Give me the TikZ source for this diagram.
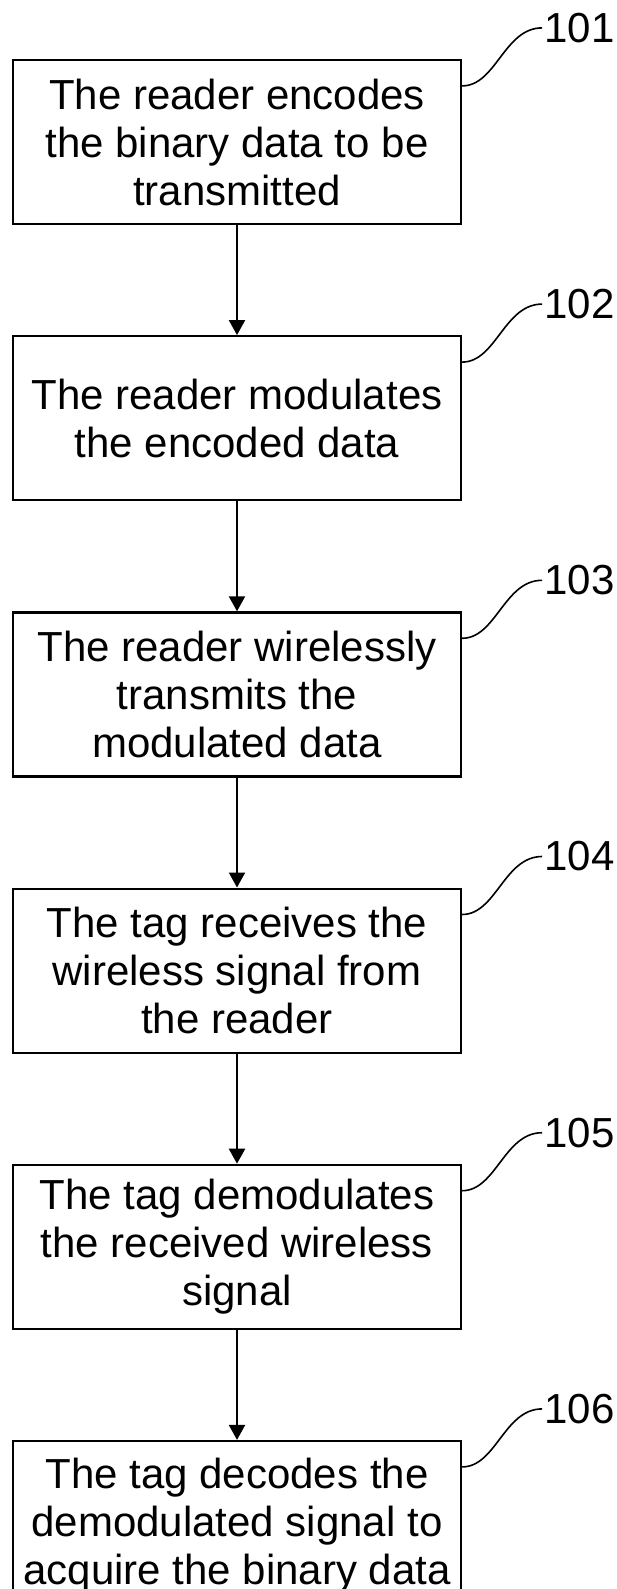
\documentclass[tikz,border=0pt]{standalone}
\usepackage{fontspec}
\setmainfont{Liberation Sans}
\usetikzlibrary{positioning,arrows.meta}
\begin{document}
\begin{tikzpicture}[
  x=1pt, y=-1pt,
  node distance=110pt,
  every node/.style={font=\fontsize{42}{48}\selectfont},
  stepbox/.style={draw, line width=2.2pt, minimum width=448pt, minimum height=164pt, align=center, inner sep=0pt},
  flow/.style={draw, line width=2.2pt, -{Triangle[length=15pt,width=16pt]}},
  leader/.style={draw, line width=1.6pt},
  tagnum/.style={anchor=west, inner sep=2pt}
]
\useasboundingbox (0,0) rectangle (616,1589);

% steps
\node[stepbox] (encode) at (237,142) {The reader encodes\\the binary data to be\\transmitted};
\node[stepbox, below=of encode] (modulate) {The reader modulates\\the encoded data};
\node[stepbox, below=of modulate] (transmit) {The reader wirelessly\\transmits the\\modulated data};
\node[stepbox, below=of transmit] (receive) {The tag receives the\\wireless signal from\\the reader};
\node[stepbox, below=of receive] (demod) {The tag demodulates\\the received wireless\\signal};
\node[stepbox, below=of demod, minimum height=170pt] (decode) {The tag decodes the\\demodulated signal to\\acquire the binary data};

\draw[flow] (encode) -- (modulate);
\draw[flow] (modulate) -- (transmit);
\draw[flow] (transmit) -- (receive);
\draw[flow] (receive) -- (demod);
\draw[flow] (demod) -- (decode);

% reference numerals
\node[tagnum] (n101) at ([xshift=80pt,yshift=31pt]encode.north east) {101};
\node[tagnum] (n102) at ([xshift=80pt,yshift=31pt]modulate.north east) {102};
\node[tagnum] (n103) at ([xshift=80pt,yshift=31pt]transmit.north east) {103};
\node[tagnum] (n104) at ([xshift=80pt,yshift=31pt]receive.north east) {104};
\node[tagnum] (n105) at ([xshift=80pt,yshift=31pt]demod.north east) {105};
\node[tagnum] (n106) at ([xshift=80pt,yshift=31pt]decode.north east) {106};

\draw[leader] ([yshift=-27pt]encode.north east) .. controls +(34pt,0) and +(-38pt,0) .. (n101.west);
\draw[leader] ([yshift=-27pt]modulate.north east) .. controls +(34pt,0) and +(-38pt,0) .. (n102.west);
\draw[leader] ([yshift=-27pt]transmit.north east) .. controls +(34pt,0) and +(-38pt,0) .. (n103.west);
\draw[leader] ([yshift=-27pt]receive.north east) .. controls +(34pt,0) and +(-38pt,0) .. (n104.west);
\draw[leader] ([yshift=-27pt]demod.north east) .. controls +(34pt,0) and +(-38pt,0) .. (n105.west);
\draw[leader] ([yshift=-27pt]decode.north east) .. controls +(34pt,0) and +(-38pt,0) .. (n106.west);
\end{tikzpicture}
\end{document}
